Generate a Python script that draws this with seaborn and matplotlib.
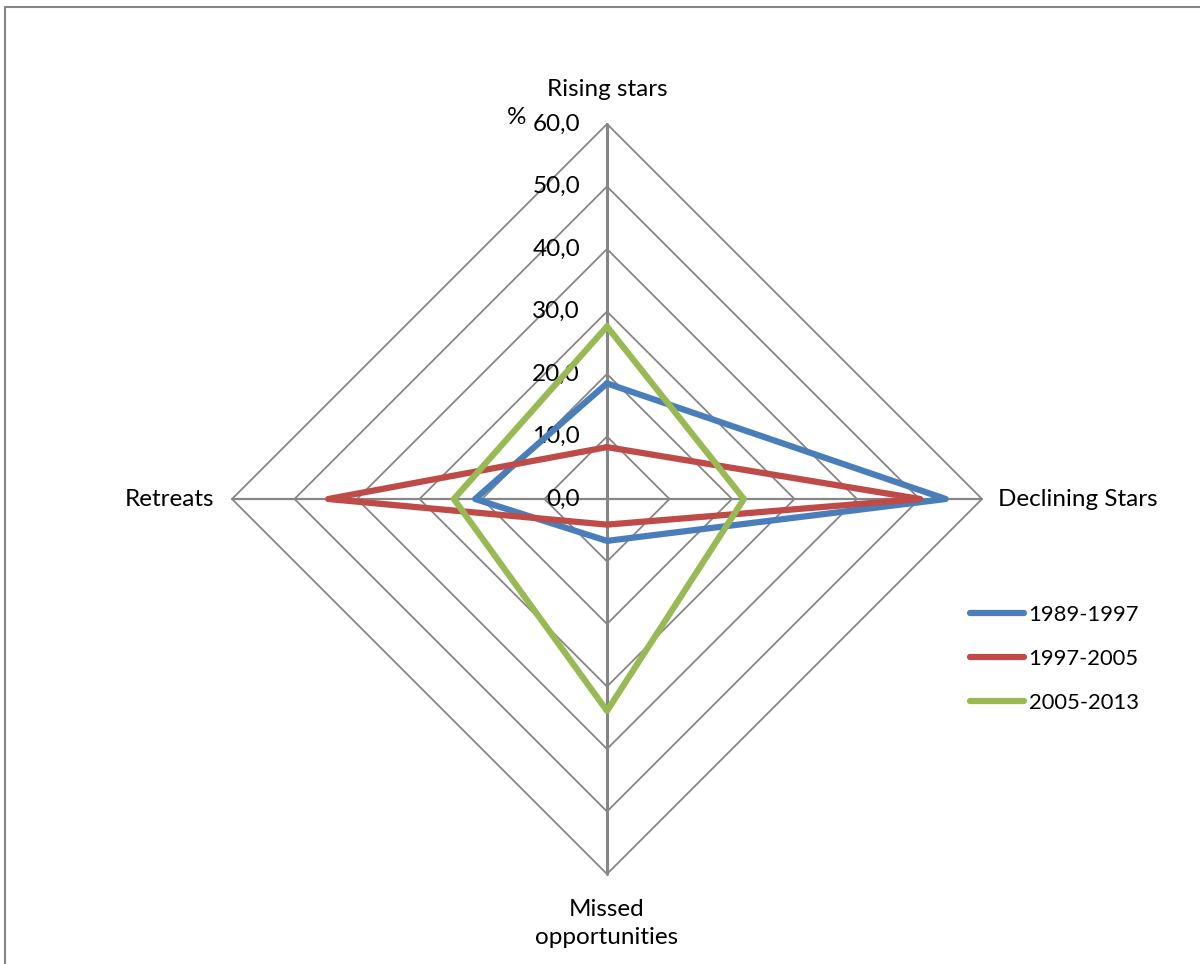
import numpy as np
import pandas as pd
import matplotlib
matplotlib.use("Agg")
import matplotlib.pyplot as plt
import seaborn as sns
from matplotlib.patches import Rectangle
from matplotlib.lines import Line2D

# Share of cases per category (%), by period
categories = ["Rising stars", "Declining Stars", "Missed\nopportunities", "Retreats"]
periods = ["1989-1997", "1997-2005", "2005-2013"]
values_1989_1997 = [18.5, 54.2, 6.7, 21.1]
values_1997_2005 = [8.3, 50.1, 4.1, 44.6]
values_2005_2013 = [27.6, 21.9, 33.9, 24.5]
ring_levels = [0, 10, 20, 30, 40, 50, 60]
ring_labels = ["0,0", "10,0", "20,0", "30,0", "40,0", "50,0", "60,0"]
colors = ["#4A7EBB", "#BE4B48", "#98B954"]

sns.set_theme(style="white")
plt.rcParams["font.family"] = ["Lato", "DejaVu Sans"]
plt.rcParams["text.color"] = "black"

W, H, DPI = 1200, 964, 100
fig = plt.figure(figsize=(W / DPI, H / DPI), dpi=DPI)
fig.patch.set_facecolor("white")
ax = fig.add_axes([0, 0, 1, 1])

cx, cy, scale = 607, 499, 6.25  # centre pixel and pixels per percent
ax.set_xlim(-cx / scale, (W - cx) / scale)
ax.set_ylim(-(H - cy) / scale, cy / scale)
ax.set_aspect("equal")
ax.axis("off")

# spoke directions: top, right, bottom, left
angles = np.array([0, 90, 180, 270]) * np.pi / 180.0
ux, uy = np.sin(angles), np.cos(angles)

grid_col = "#868686"
for lvl in ring_levels[1:]:
    xs = np.append(ux * lvl, ux[0] * lvl)
    ys = np.append(uy * lvl, uy[0] * lvl)
    ax.plot(xs, ys, color=grid_col, lw=1.3, zorder=1)
rmax = ring_levels[-1]
for i in range(4):
    ax.plot([0, ux[i] * rmax], [0, uy[i] * rmax], color=grid_col,
            lw=2.2 if i % 2 == 0 else 1.6, zorder=1)

fs = 17.5
# value labels along the vertical axis
for lvl, lab in zip(ring_levels, ring_labels):
    ax.text(-27 / scale, lvl, lab, ha="right", va="center", fontsize=fs, color="black")
ax.text(-90 / scale, 61, "%", ha="center", va="center", fontsize=fs, color="black")

# category labels
ax.text(0, 65.5, categories[0], ha="center", va="center", fontsize=fs)
ax.text(62.5, 0, categories[1], ha="left", va="center", fontsize=fs)
ax.text(0, -67.9, categories[2], ha="center", va="center", fontsize=fs, linespacing=1.45)
ax.text(-62.8, 0, categories[3], ha="right", va="center", fontsize=fs)

# series polygons
rows = []
for period, vals in zip(periods, [values_1989_1997, values_1997_2005, values_2005_2013]):
    closed = list(vals) + [vals[0]]
    for k, v in enumerate(closed):
        a = k % 4
        rows.append({"period": period, "order": k, "x": ux[a] * v, "y": uy[a] * v})
df = pd.DataFrame(rows)
sns.lineplot(data=df, x="x", y="y", hue="period", units="period", estimator=None,
             sort=False, palette=colors, lw=4.5, ax=ax, zorder=3, legend=False)

# legend
handles = [Line2D([0], [0], color=c, lw=4.5, solid_capstyle="round") for c in colors]
leg = fig.legend(handles, periods, loc="upper left",
                 bbox_to_anchor=(961 / W, 1 - 596 / H), frameon=False,
                 fontsize=15.8, handlelength=2.45, handletextpad=0.23,
                 labelspacing=1.09, borderaxespad=0)

# outer frame
fig.add_artist(Rectangle((5 / W, -0.1), 2, 1 - 7 / H + 0.1, transform=fig.transFigure,
                         fill=False, edgecolor=grid_col, lw=1.5))

fig.savefig("out.png", dpi=DPI)
